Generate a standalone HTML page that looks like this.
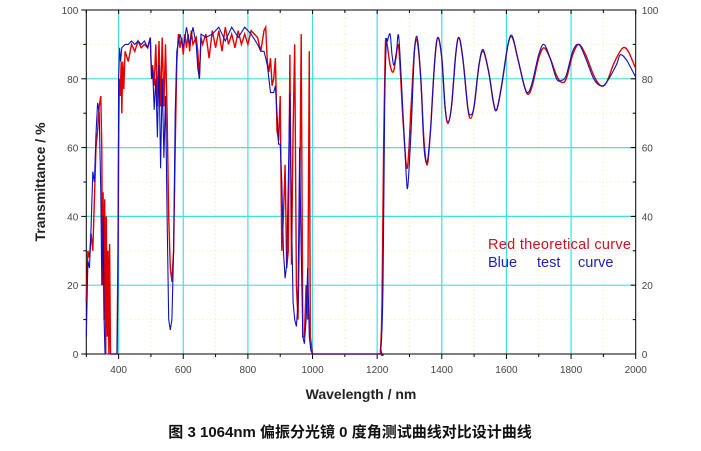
<!DOCTYPE html>
<html><head><meta charset="utf-8"><style>
html,body{margin:0;padding:0;background:#fff;width:701px;height:451px;overflow:hidden}
svg{display:block}
</style></head><body>
<svg id="chart" width="701" height="451" xmlns="http://www.w3.org/2000/svg" font-family="Liberation Sans, sans-serif">
<g id="grid"></g>
<g id="axes"></g>
<path id="red" fill="none" stroke="#e00000" stroke-width="1.4"/>
<path id="blue" fill="none" stroke="#1010c0" stroke-width="1.1"/>
<g id="labels"></g>
<text x="488" y="249" font-size="14.5" fill="#d01020" textLength="143">Red  theoretical curve</text>
<text x="488" y="267" font-size="14.5" fill="#2020c0">Blue<tspan x="537">test</tspan><tspan x="578">curve</tspan></text>
<text transform="translate(45,182) rotate(-90)" text-anchor="middle" font-size="14" font-weight="bold" fill="#222">Transmittance / %</text>
<text x="361" y="399" text-anchor="middle" font-size="14" font-weight="bold" fill="#222">Wavelength / nm</text>
<text x="350" y="437" text-anchor="middle" font-size="15" font-weight="bold" fill="#111" font-family="Liberation Sans, Noto Sans CJK SC, sans-serif">图 3  1064nm 偏振分光镜 0 度角测试曲线对比设计曲线</text>
</svg>
<script>
const xTicks=[400,600,800,1000,1200,1400,1600,1800,2000];
const yTicks=[0,20,40,60,80,100];
const redX=[300,305,310,315,320,325,330,335,340,345,348,350,352,355,357,360,362,365,367,370,372,375,395,398,400,402,405,408,410,413,416,420,430,440,450,460,470,480,490,498,502,505,510,515,520,525,530,535,540,545,550,555,560,565,570,575,580,585,590,595,600,605,610,615,620,625,630,640,645,650,655,660,670,680,690,700,710,720,730,740,750,760,770,780,790,800,810,820,830,840,850,855,860,865,870,875,880,885,890,895,900,905,910,915,920,925,930,935,940,945,950,955,960,965,970,975,980,985,990,993,1000,1200,1210,1215,1220,1225,1229,1240,1250,1258,1267,1280,1293,1305,1315,1324,1335,1345,1355,1365,1378,1388,1400,1410,1419,1430,1443,1453,1465,1480,1489,1500,1515,1528,1545,1560,1570,1585,1605,1618,1635,1655,1667,1680,1700,1716,1735,1755,1770,1785,1805,1824,1845,1870,1892,1910,1935,1961,1980,2000];
const redY=[15,30,28,35,30,45,60,65,72,75,60,20,47,10,45,0,40,5,30,0,32,0,0,30,60,80,75,85,70,85,77,88,85,90,88,91,89,90,89,92,80,84,78,90,72,91,72,92,72,90,70,40,25,21,30,60,85,93,89,92,87,93,89,93,88,94,90,92,88,80,92,90,93,86,94,89,94,88,95,90,93,89,94,90,93,90,94,93,92,88,94,95,85,82,86,78,80,86,65,62,75,30,40,55,25,30,87,26,65,90,20,10,40,93,5,5,20,10,88,5,0,0,1,15,60,88,91,84,82,86,89,68,54,72,88,91,80,62,55,65,85,92,86,72,67,72,87,92,86,72,68.5,72,84,88,82,73,71,78,90,92,86,78,75.5,78,86,89,86,81,79,80,87,90,87,81,78,79,85,89,87.5,83];
const blueX=[300,305,310,315,320,325,330,335,340,345,348,352,355,358,395,398,400,403,406,410,420,430,440,450,460,470,480,490,498,502,505,510,515,520,525,530,535,540,545,550,555,560,565,570,575,580,590,600,610,620,630,640,645,650,655,670,690,710,730,750,770,790,810,830,840,850,860,870,880,885,890,895,900,905,910,915,920,925,930,935,940,945,950,955,960,965,970,975,980,985,990,995,1000,1200,1212,1218,1223,1228,1232,1240,1246,1252,1260,1267,1280,1290,1295,1305,1315,1324,1335,1345,1355,1365,1378,1388,1400,1410,1419,1430,1443,1453,1465,1480,1489,1500,1515,1528,1545,1560,1570,1585,1605,1618,1635,1655,1667,1680,1700,1716,1735,1755,1770,1785,1805,1824,1845,1870,1892,1910,1940,1953,1975,2000];
const blueY=[5,27,25,37,53,50,64,73,70,47,20,40,10,0,0,20,80,89,85,89,90,90,91,90,91,90,91,89,92,80,83,71,80,63,84,54,80,57,75,40,10,7,10,30,70,88,93,89,95,90,95,90,83,80,93,92,93,95,91,95,92,95,93,90,88,88,84,76,76,78,70,61,61,50,30,22,26,50,76,40,15,10,8,15,60,30,5,3,10,25,5,1,0,0,2,20,70,90,91,93,87,84,88,92,70,52,49,65,87,92,80,60,56,65,85,92,86,72,67.5,72,87,92,86,72,69.5,72,84,88.5,82,73,71,78,90,92.5,86,78,76,79,87,90,86,80,79.5,81,88,90,86,80,78,79,84,87,85,80.5];
const X0=86.3,X1=635.7,Y0=354,Y1=10;
const sx=v=>X0+(v-300)/1700*(X1-X0);
const sy=v=>Y0-v/100*(Y0-Y1);
const NS='http://www.w3.org/2000/svg';
function mk(p,tag,a){const e=document.createElementNS(NS,tag);for(const k in a)e.setAttribute(k,a[k]);p.appendChild(e);return e;}
const grid=document.getElementById('grid'),axes=document.getElementById('axes'),labels=document.getElementById('labels');
for(let v=300;v<=2000;v+=100){if(v%200!==0){const l=mk(grid,'line',{x1:sx(v),x2:sx(v),y1:Y1,y2:Y0,stroke:'#eeeeaa','stroke-dasharray':'1,3'});}}
for(let v=10;v<100;v+=20){const l=mk(grid,'line',{x1:X0,x2:X1,y1:sy(v),y2:sy(v),stroke:'#eeeeaa','stroke-dasharray':'1,3'});}
xTicks.forEach(v=>{if(v<2000){const l=mk(grid,'line',{x1:sx(v),x2:sx(v),y1:Y1,y2:Y0,stroke:'#40e0e0','stroke-width':1.2});}
 const t=mk(labels,'text',{x:sx(v),y:Y0+19,'text-anchor':'middle','font-size':10,fill:'#444'});t.textContent=v;
 
 mk(axes,'line',{x1:sx(v),x2:sx(v),y1:Y0,y2:Y0+5,stroke:'#000'});mk(axes,'line',{x1:sx(v),x2:sx(v),y1:Y1,y2:Y1+4,stroke:'#000'});});
for(let v=300;v<2000;v+=200){mk(axes,'line',{x1:sx(v),x2:sx(v),y1:Y0,y2:Y0+3,stroke:'#000'});mk(axes,'line',{x1:sx(v),x2:sx(v),y1:Y1,y2:Y1+3,stroke:'#000'});}
yTicks.forEach(v=>{if(v>0&&v<100){const l=mk(grid,'line',{x1:X0,x2:X1,y1:sy(v),y2:sy(v),stroke:'#40e0e0','stroke-width':1.2});}
 const t=mk(labels,'text',{x:X0-8,y:sy(v)+4,'text-anchor':'end','font-size':10,fill:'#444'});t.textContent=v;
 
 const t2=mk(labels,'text',{x:X1+6,y:sy(v)+4,'font-size':10,fill:'#444'});t2.textContent=v;
 
 mk(axes,'line',{x1:X0-5,x2:X0,y1:sy(v),y2:sy(v),stroke:'#000'});mk(axes,'line',{x1:X1-5,x2:X1,y1:sy(v),y2:sy(v),stroke:'#000'});});
for(let v=10;v<100;v+=20){mk(axes,'line',{x1:X0-3,x2:X0,y1:sy(v),y2:sy(v),stroke:'#000'});mk(axes,'line',{x1:X1-3,x2:X1,y1:sy(v),y2:sy(v),stroke:'#000'});}
mk(axes,'rect',{x:X0,y:Y1,width:X1-X0,height:Y0-Y1,fill:'none',stroke:'#000','stroke-width':1});
function path(xs,ys){
 const P=xs.map((x,i)=>[sx(x),sy(ys[i])]);
 let d='M'+P[0][0].toFixed(1)+','+P[0][1].toFixed(1);
 for(let i=1;i<P.length;i++){
  if(xs[i-1]>=1200 && i+1<P.length){
   const p0=P[i-2]||P[i-1],p1=P[i-1],p2=P[i],p3=P[i+1];
   const c1=[p1[0]+(p2[0]-p0[0])/6,p1[1]+(p2[1]-p0[1])/6];
   const c2=[p2[0]-(p3[0]-p1[0])/6,p2[1]-(p3[1]-p1[1])/6];
   d+='C'+c1[0].toFixed(1)+','+c1[1].toFixed(1)+' '+c2[0].toFixed(1)+','+c2[1].toFixed(1)+' '+p2[0].toFixed(1)+','+p2[1].toFixed(1);
  } else d+='L'+P[i][0].toFixed(1)+','+P[i][1].toFixed(1);
 }
 return d;
}
document.getElementById('blue').setAttribute('d',path(blueX,blueY));
document.getElementById('red').setAttribute('d',path(redX,redY));
</script>
</body></html>
